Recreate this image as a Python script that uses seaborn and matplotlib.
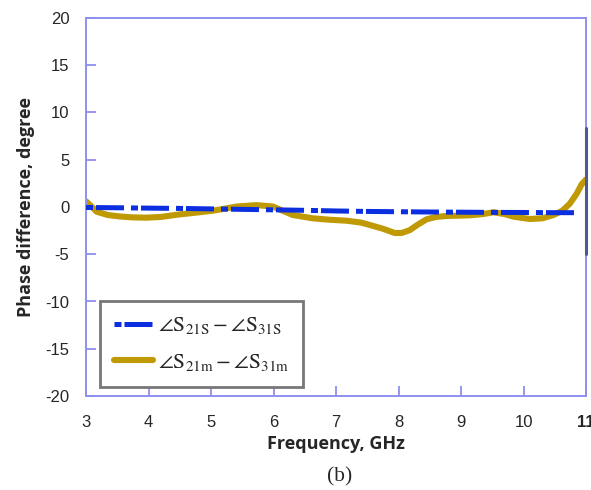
import matplotlib
matplotlib.use("Agg")
import matplotlib.pyplot as plt
import seaborn as sns
import pandas as pd

# Phase difference between the two output ports (degrees)
freq_sim = [3.0, 3.5, 4.0, 4.5, 5.0, 5.5, 6.0, 6.5, 7.0, 7.5, 8.0, 8.5, 9.0, 9.5, 10.0, 10.5, 10.85]
phase_sim = [-0.05, -0.08, -0.12, -0.15, -0.2, -0.25, -0.3, -0.35, -0.42, -0.47, -0.5, -0.53, -0.55, -0.57, -0.58, -0.6, -0.6]

freq_meas = [3.0, 3.08, 3.17, 3.35, 3.54, 3.75, 3.97, 4.2, 4.5, 4.75, 5.03, 5.2, 5.41, 5.73,
             5.99, 6.15, 6.31, 6.63, 6.9, 7.17, 7.4, 7.54, 7.75, 7.94, 8.05, 8.18, 8.3, 8.45,
             8.6, 8.77, 9.14, 9.35, 9.52, 9.7, 9.84, 10.1, 10.3, 10.48, 10.62, 10.74, 10.85,
             10.93, 11.0]
phase_meas = [0.6, 0.1, -0.5, -0.85, -1.0, -1.1, -1.13, -1.05, -0.78, -0.6, -0.39, -0.2, 0.05, 0.2,
              0.05, -0.4, -0.85, -1.2, -1.35, -1.45, -1.65, -1.9, -2.3, -2.75, -2.75, -2.45, -1.9, -1.3,
              -1.05, -0.95, -0.88, -0.75, -0.56, -0.75, -1.02, -1.27, -1.2, -0.85, -0.4, 0.35, 1.4,
              2.4, 2.9]

x_ticks = [3, 4, 5, 6, 7, 8, 9, 10, 11]
y_ticks = [-20, -15, -10, -5, 0, 5, 10, 15, 20]

sim = pd.DataFrame({"f": freq_sim, "p": phase_sim})
meas = pd.DataFrame({"f": freq_meas, "p": phase_meas})

sns.set_style("white")
plt.rcParams["mathtext.fontset"] = "stix"

fig = plt.figure(figsize=(5.91, 4.90), dpi=100)
ax = fig.add_axes([86 / 591, 94 / 490, 500 / 591, 378 / 490])

axis_color = "#8f8ff0"
blue = "#0a2ee0"
gold = "#c09a05"

sns.lineplot(data=sim, x="f", y="p", ax=ax, color=blue, linewidth=3.6,
             label=r"$\angle \mathrm{S}_{21\mathrm{S}} - \angle \mathrm{S}_{31\mathrm{S}}$", zorder=3)
ax.lines[-1].set_dashes([1.4, 0.6, 5.6, 1.4])
sns.lineplot(data=meas, x="f", y="p", ax=ax, color=gold, linewidth=4.4,
             label=r"$\angle \mathrm{S}_{21\mathrm{m}} - \angle \mathrm{S}_{31\mathrm{m}}$", zorder=2)

ax.set_xlim(3, 11)
ax.set_ylim(-20, 20)
ax.set_xticks(x_ticks)
ax.set_yticks(y_ticks)
ax.set_xticklabels([str(t) for t in x_ticks], fontsize=12, family="Liberation Sans")
ax.set_yticklabels([str(t) for t in y_ticks], fontsize=12, family="Liberation Sans")
ax.get_xticklabels()[-1].set_fontweight("bold")

ax.tick_params(axis="both", direction="in", length=7, width=1.3, color=axis_color,
               left=True, bottom=True)
ax.tick_params(axis="x", pad=14)
ax.tick_params(axis="y", pad=12)

for side in ["left", "right", "top", "bottom"]:
    ax.spines[side].set_color(axis_color)
    ax.spines[side].set_linewidth(1.4)
# darker stretch of the right frame edge
ax.plot([11, 11], [-5, 8.4], color="#505a90", linewidth=2.2, clip_on=False, zorder=4)

ax.set_xlabel("Frequency, GHz", fontsize=13, fontweight="bold", family="Open Sans", labelpad=3)
ax.set_ylabel("Phase difference, degree", fontsize=13, fontweight="bold", family="Open Sans",
              labelpad=7)

leg = ax.legend(loc="lower left", bbox_to_anchor=(0.028, 0.025), borderaxespad=0, fontsize=15.5,
                handlelength=1.8, handletextpad=0.25, labelspacing=0.7,
                borderpad=0.65, fancybox=False, framealpha=1)
leg.get_frame().set_edgecolor("#777777")
leg.get_frame().set_linewidth(2)

fig.text(340 / 591, 1 - 477 / 490, "(b)", fontsize=15.5, family="Liberation Serif",
         ha="center", va="center")

fig.savefig("out.png", dpi=100)
